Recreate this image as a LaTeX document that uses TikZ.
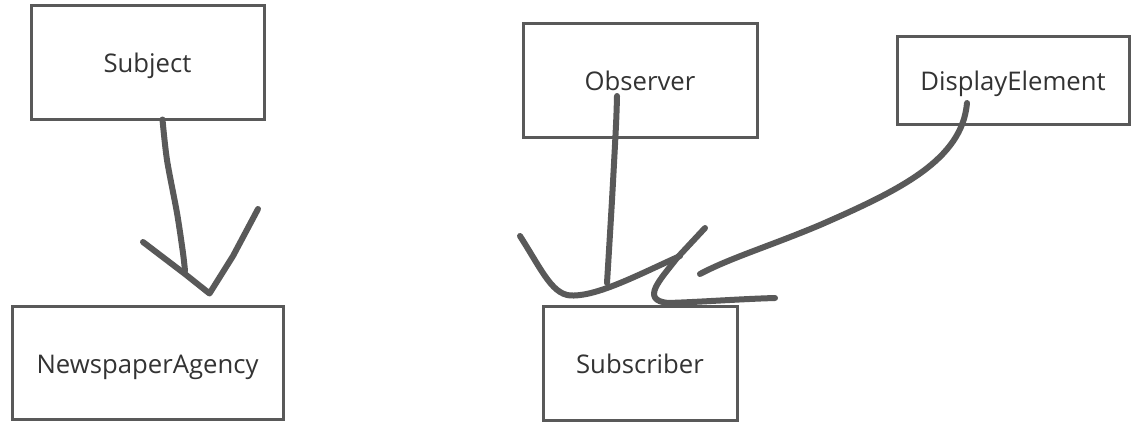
\documentclass[tikz,border=0pt]{standalone}
\usepackage{fontspec}
\setmainfont{Open Sans}
\definecolor{linegray}{HTML}{595959}
\definecolor{textgray}{HTML}{333333}
\tikzset{
  classbox/.style={draw=linegray, line width=3pt, inner sep=0pt, text=textgray,
    text height=21pt, text depth=0pt,
    font=\fontsize{25.7}{30}\selectfont},
  stroke/.style={draw=linegray, line width=6pt, line cap=round, line join=round}
}
\begin{document}
\begin{tikzpicture}[x=1pt,y=-1pt]
\useasboundingbox (0,0) rectangle (1145,426);
\fill[white] (0,0) rectangle (1145,426);
% boxes
\node[classbox, minimum width=233pt, minimum height=114pt] (subject) at (147.5,62) {Subject};
\node[classbox, minimum width=271pt, minimum height=113pt] (agency) at (147.5,362.5) {NewspaperAgency};
\node[classbox, minimum width=234pt, minimum height=114pt] (observer) at (640,80) {Observer};
\node[classbox, minimum width=232pt, minimum height=88pt] (display) at (1013,80) {DisplayElement};
\node[classbox, minimum width=194pt, minimum height=114pt] (subscriber) at (640,363) {Subscriber};
% connector end points (shifts are in canvas units: positive yshift = upwards)
\coordinate (s0) at ([xshift=15pt,yshift=1pt]subject.south);
\coordinate (a0) at ([xshift=62pt,yshift=11pt]agency.north);
\coordinate (o0) at ([xshift=-23pt,yshift=-16pt]observer.center);
\coordinate (d0) at ([xshift=-46pt,yshift=-23pt]display.center);
\coordinate (b0) at ([xshift=-66pt,yshift=9pt]subscriber.north);
% Subject -> NewspaperAgency
\draw[stroke] plot[smooth] coordinates {(s0) (167,160) (177,213) (183,253) (185,271)};
\draw[stroke] (143,242) -- (185,274) -- (a0) -- (233,256) -- (258,209);
% Observer -> Subscriber
\draw[stroke] plot[smooth] coordinates {(o0) (616,125) (612,200) (607,283)};
% DisplayElement -> Subscriber
\draw[stroke] (d0) .. controls (962,160) and (900,190) .. (820,225)
  .. controls (770,246) and (730,258) .. (700,274);
% hand-drawn arrow heads at Subscriber
\draw[stroke] (520,236) .. controls (543,272) and (553,297) .. (b0)
  .. controls (600,295) and (640,274) .. (680,256);
\draw[stroke] (705,228) -- (677,258) .. controls (660,280) and (640,300) .. (668,303)
  .. controls (700,302) and (740,299) .. (775,298);
\end{tikzpicture}
\end{document}
